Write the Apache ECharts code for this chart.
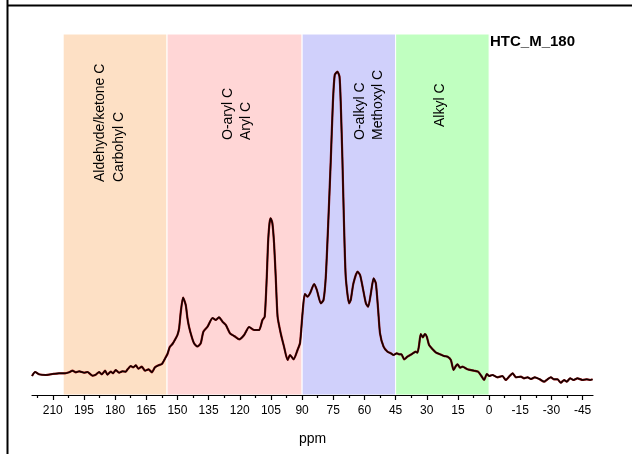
<!DOCTYPE html>
<html>
<head>
<meta charset="utf-8">
<script src="https://cdn.jsdelivr.net/npm/echarts/dist/echarts.min.js"></script>
<style>
  html, body { margin: 0; padding: 0; background: #ffffff; }
  #chart { width: 632px; height: 454px; }
</style>
</head>
<body>
<div id="chart"></div>
<script>
// 13C CP-MAS NMR spectrum of HTC_M_180: chemical shift (ppm) vs. intensity (a.u.)
const shift = [
  220.0, 218.5, 216.6, 213.4, 210.1, 207.0, 204.1, 202.2, 200.5, 198.9,
  197.3, 194.9, 193.3, 190.9, 189.3, 187.7, 186.4, 184.8, 183.7, 182.1,
  181.0, 179.7, 178.1, 176.5, 174.9, 174.0, 172.5, 171.3, 170.0, 168.8,
  167.2, 165.6, 163.9, 162.3, 160.8, 159.1, 157.5, 155.9, 154.8, 153.7,
  152.4, 150.8, 150.0, 149.2, 148.4, 147.3, 146.0, 145.2, 144.4, 143.1,
  142.0, 140.4, 138.8, 137.5, 135.5, 133.1, 131.5, 130.0, 128.3, 126.7,
  124.7, 122.7, 120.3, 117.9, 115.5, 113.1, 110.7, 109.1, 108.0, 107.0,
  106.4, 105.7, 105.1, 104.3, 103.5, 102.7, 101.8, 100.3, 98.7, 97.0,
  95.8, 94.1, 92.2, 91.0, 89.8, 88.7, 87.4, 86.2, 84.2, 82.9,
  81.0, 79.7, 78.6, 77.5, 76.2, 75.2, 74.3, 73.0, 72.0, 71.4,
  70.6, 69.8, 69.0, 67.4, 66.6, 65.3, 63.3, 62.1, 60.9, 59.3,
  58.2, 56.9, 55.6, 54.5, 53.4, 52.5, 50.8, 48.9, 47.3, 46.0,
  44.4, 43.3, 42.2, 40.9, 39.3, 37.4, 35.3, 34.5, 33.7, 32.9,
  31.9, 30.9, 30.0, 28.9, 27.2, 25.7, 23.6, 21.7, 20.0, 18.4,
  17.1, 16.0, 15.2, 14.0, 12.8, 10.4, 7.2, 5.3, 3.7, 2.4,
  1.1, 0.0, -1.6, -4.0, -6.4, -8.0, -9.6, -11.3, -12.9, -15.3,
  -16.8, -18.5, -20.1, -22.0, -24.1, -26.5, -28.1, -29.7, -31.3, -32.9,
  -34.5, -36.1, -37.4, -39.0, -40.6, -42.5, -45.0, -47.0, -48.6, -49.8
];
const intensity = [
  19, 23, 20.7, 20, 21, 21.7, 21.7, 22.7, 24.3, 22.7,
  23.7, 22.3, 23, 19.3, 20.3, 23, 20.7, 24.3, 20.3, 23.3,
  21.7, 25, 22.3, 23.7, 23.3, 25.7, 29, 27.7, 29.7, 26.3,
  28.3, 24.3, 25.7, 22.7, 27.7, 29.7, 31, 36.7, 41, 48,
  51, 56.7, 60, 66.7, 83, 97.5, 90, 77, 68, 58,
  51.7, 48.5, 51.7, 63.3, 68.3, 77, 75, 77.7, 73.3, 70,
  61.7, 59, 55.7, 60, 68, 65, 65, 75, 78.3, 118.3,
  151.7, 171.7, 176.7, 171.7, 151.7, 118.3, 78.3, 61.7, 48.3, 35,
  40, 35.7, 45, 52, 81.7, 101, 98.3, 101.7, 111, 105,
  91.7, 95, 118.3, 168.3, 235, 291.7, 320, 323.3, 318.3, 291.7,
  235, 168.3, 118.3, 91.7, 95, 111.7, 123.3, 120, 108.3, 91.7,
  88.3, 101.7, 116.7, 111.7, 85, 61.7, 48.3, 43.3, 41.7, 40,
  41.7, 40.7, 40.7, 35.7, 38.3, 40.7, 43.3, 42.3, 50, 61,
  57.7, 61, 58.3, 50, 45.7, 42.7, 40.7, 39, 38.3, 35,
  25, 29, 30.7, 27.3, 28.3, 25.7, 24.3, 23.3, 19, 15,
  21, 19, 20, 17.7, 19, 15, 18.3, 21.7, 17.7, 18.3,
  16.7, 17.7, 16, 17.7, 16, 13.3, 15.7, 17.7, 15.7, 15.7,
  12.3, 15, 13.3, 16.7, 15, 16.7, 15, 15.7, 15, 15.7
];

// axis labels every 15 ppm, intermediate ticks half-way between them
const tickLabels = [210, 195, 180, 165, 150, 135, 120, 105, 90, 75, 60, 45, 30, 15, 0, -15, -30, -45];
const minorTicks = [217.5, 202.5, 187.5, 172.5, 157.5, 142.5, 127.5, 112.5, 97.5, 82.5, 67.5, 52.5, 37.5, 22.5, 7.5, -7.5, -22.5, -37.5];

// chemical-shift regions
const regionFrom = [205, 155, 90, 45];
const regionTo = [155, 90, 45, 0];
const regionNames = [
  ['Aldehyde/ketone C', 'Carbohyl C'],
  ['O-aryl C', 'Aryl C'],
  ['O-alkyl C', 'Methoxyl C'],
  ['Alkyl C']
];
const sampleName = 'HTC_M_180';

const FONT = '"Liberation Sans", Arial, Helvetica, sans-serif';
const regionColors = ['#fde0c5', '#ffd6d6', '#d0d0fb', '#c0ffc0'];

const spectrum = shift.map((s, i) => [s, intensity[i]]);

const bands = regionFrom.map((from, i) => ([
  { xAxis: from, itemStyle: { color: regionColors[i], borderColor: '#ffffff', borderWidth: 1 } },
  { xAxis: regionTo[i] }
]));

// rotated region captions: [line text, x, y of text start]
const captionSpots = [
  [[100, 182], [119, 182]],
  [[228, 140], [246, 140]],
  [[360, 140], [378, 140]],
  [[440, 127]]
];
const captions = [];
regionNames.forEach((lines, i) => {
  lines.forEach((t, j) => {
    captions.push({
      type: 'text',
      x: captionSpots[i][j][0],
      y: captionSpots[i][j][1],
      rotation: Math.PI / 2,
      z: 20,
      style: {
        text: t,
        fill: '#000000',
        font: '14px ' + FONT,
        align: 'left',
        verticalAlign: 'middle'
      }
    });
  });
});

const chart = echarts.init(document.getElementById('chart'), null, { renderer: 'canvas' });

chart.setOption({
  animation: false,
  backgroundColor: '#ffffff',
  grid: { left: 32, right: 39, top: 34, bottom: 59, containLabel: false },
  xAxis: [
    {
      type: 'value',
      min: -50,
      max: 220,
      inverse: true,
      z: 10,
      name: 'ppm',
      nameLocation: 'middle',
      nameGap: 37,
      nameTextStyle: { color: '#000000', fontSize: 14, fontFamily: FONT },
      axisLine: { show: true, onZero: false, lineStyle: { color: '#000000', width: 1.2 } },
      axisTick: { show: true, inside: false, length: 5, customValues: tickLabels, lineStyle: { color: '#000000', width: 1.2 } },
      axisLabel: { show: true, customValues: tickLabels, margin: 10, color: '#000000', fontSize: 12, fontFamily: FONT },
      splitLine: { show: false }
    },
    {
      type: 'value',
      min: -50,
      max: 220,
      inverse: true,
      position: 'bottom',
      z: 10,
      axisLine: { show: false },
      axisTick: { show: true, inside: false, length: 3, customValues: minorTicks, lineStyle: { color: '#000000', width: 1.2 } },
      axisLabel: { show: false },
      splitLine: { show: false }
    }
  ],
  yAxis: {
    type: 'value',
    min: 0,
    max: 361,
    show: false,
    splitLine: { show: false }
  },
  series: [
    {
      type: 'line',
      name: 'underlay',
      xAxisIndex: 0,
      data: spectrum,
      showSymbol: false,
      smooth: 0.2,
      lineStyle: { color: '#8a0f0f', width: 2.2 },
      z: 3,
      markArea: {
        silent: true,
        data: bands
      }
    },
    {
      type: 'line',
      name: sampleName,
      xAxisIndex: 0,
      data: spectrum,
      showSymbol: false,
      smooth: 0.2,
      lineStyle: { color: '#120000', width: 1.4 },
      z: 4
    }
  ],
  graphic: [
    // outer frame edges
    { type: 'line', z: 30, shape: { x1: 7, y1: 5.5, x2: 632, y2: 5.5 }, style: { stroke: '#000000', lineWidth: 2 } },
    { type: 'line', z: 30, shape: { x1: 7.5, y1: 0, x2: 7.5, y2: 454 }, style: { stroke: '#000000', lineWidth: 2 } },
    {
      type: 'text',
      x: 490,
      y: 42,
      z: 20,
      style: {
        text: sampleName,
        fill: '#000000',
        font: 'bold 15px ' + FONT,
        align: 'left',
        verticalAlign: 'middle'
      }
    }
  ].concat(captions)
});
</script>
</body>
</html>
